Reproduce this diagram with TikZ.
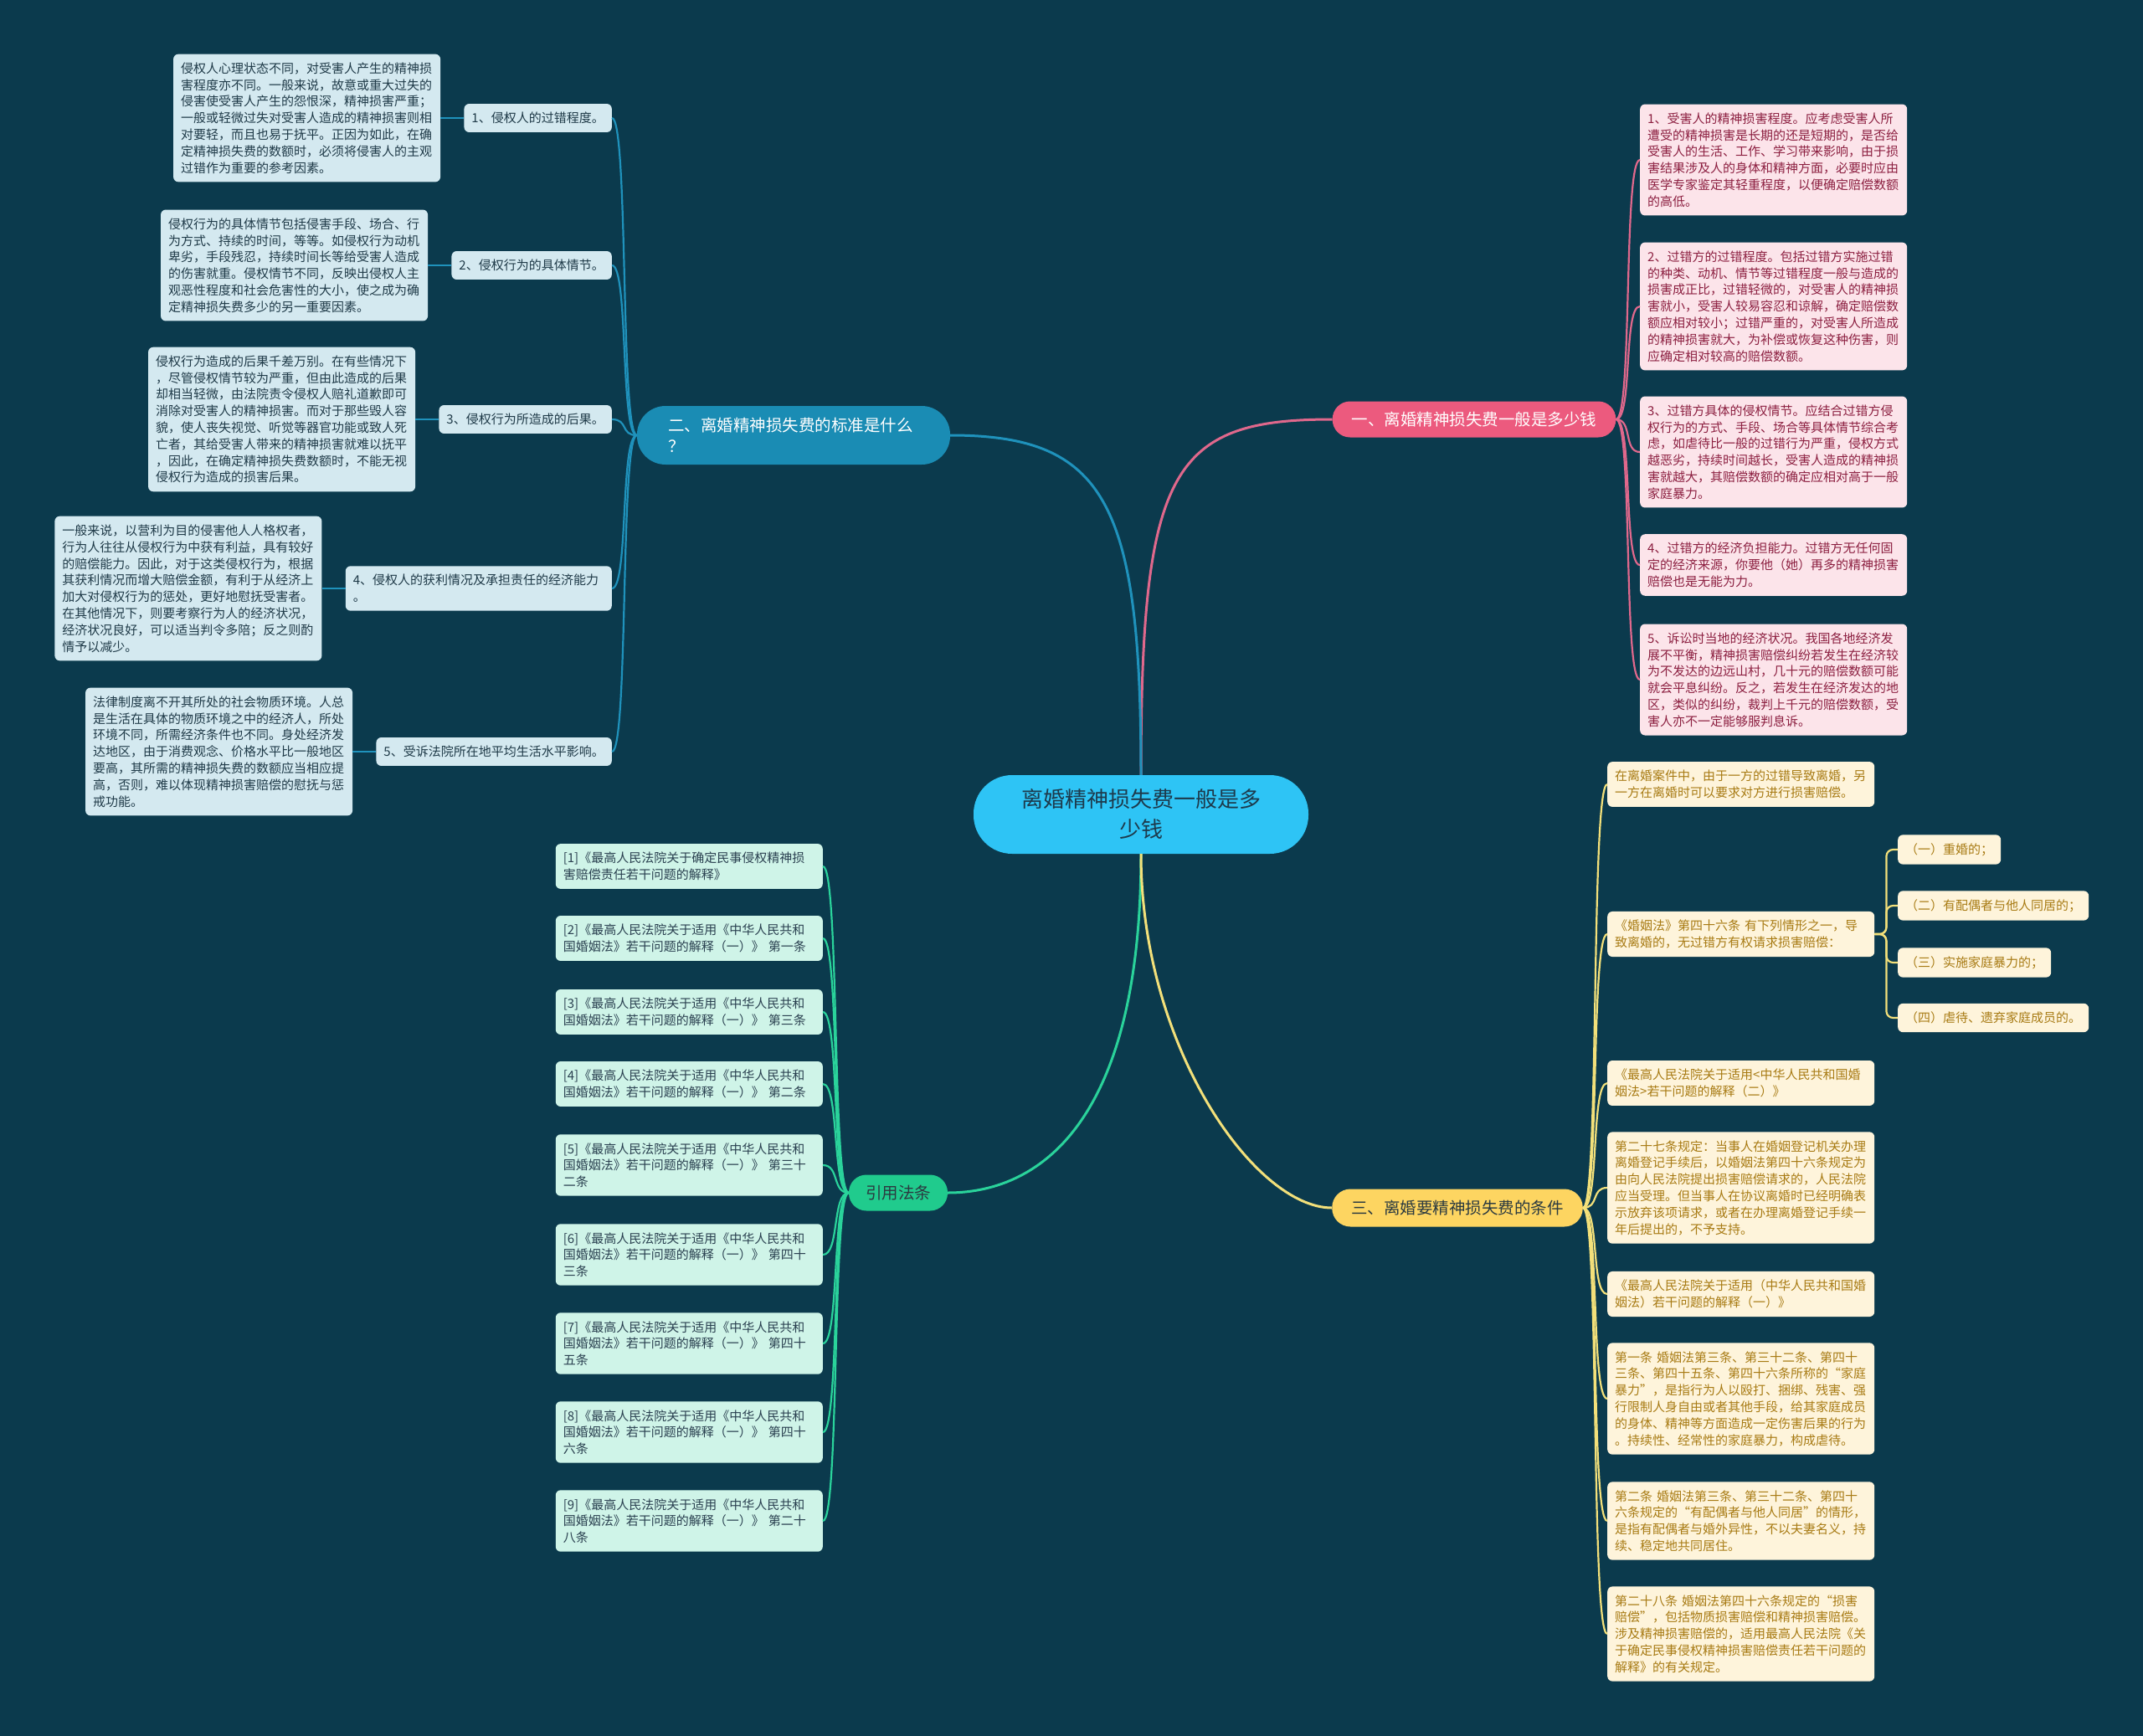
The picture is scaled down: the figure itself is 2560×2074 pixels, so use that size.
\documentclass[tikz,border=0pt]{standalone}
\usepackage{fontspec}
\setmainfont{Noto Sans CJK SC}
\usetikzlibrary{positioning}

\definecolor{bgcol}{HTML}{0B3A4D}
\definecolor{rootfill}{HTML}{2EC4F5}
\definecolor{roottext}{HTML}{1D3A4C}
\definecolor{darktext}{HTML}{2B3A40}
\definecolor{pinkmain}{HTML}{EC5A7E}
\definecolor{pinkline}{HTML}{E0688C}
\definecolor{pinkfill}{HTML}{FCE4EA}
\definecolor{pinktext}{HTML}{8C1F40}
\definecolor{bluemain}{HTML}{1A8CB4}
\definecolor{blueline}{HTML}{1F92BC}
\definecolor{bluefill}{HTML}{D4E9F0}
\definecolor{bluetext}{HTML}{1F3A48}
\definecolor{greenmain}{HTML}{20CB8D}
\definecolor{greenline}{HTML}{2AD39B}
\definecolor{greenfill}{HTML}{CFF4E8}
\definecolor{greentext}{HTML}{2A4050}
\definecolor{yellowmain}{HTML}{FDD561}
\definecolor{yellowline}{HTML}{F3E07A}
\definecolor{yellowfill}{HTML}{FEF4DB}
\definecolor{yellowtext}{HTML}{A87B14}

\begin{document}
\begin{tikzpicture}[
		x=1pt, y=-1pt,
		node distance=28pt,
		root/.style={rectangle, rounded corners=46pt, minimum height=94pt, text width=300pt, align=center, inner xsep=50pt, inner ysep=0pt, fill=rootfill, text=roottext, font=\fontsize{26pt}{36pt}\selectfont},
		branch/.style={rectangle, rounded corners=21pt, minimum height=43pt, inner xsep=23pt, inner ysep=0pt, align=left, font=\fontsize{19.5pt}{24.5pt}\selectfont},
		branch_pink/.style={branch, fill=pinkmain, text=white},
		branch_blue/.style={branch, fill=bluemain, text=white, rounded corners=34pt, minimum height=70pt, text width=300pt, inner xsep=37pt},
		branch_yellow/.style={branch, fill=yellowmain, text=darktext, minimum height=45pt, rounded corners=22pt},
		branch_green/.style={branch, fill=greenmain, text=darktext, inner xsep=20pt},
		card/.style={rectangle, rounded corners=6pt, inner xsep=9pt, inner ysep=10pt, align=left, font=\fontsize{15pt}{19.8pt}\selectfont},
		det_width/.style={text width=301pt},
		sub_blue/.style={card, fill=bluefill, text=bluetext},
		det_blue/.style={sub_blue, det_width},
		det_pink/.style={card, det_width, fill=pinkfill, text=pinktext},
		det_green/.style={card, det_width, fill=greenfill, text=greentext},
		det_yellow/.style={card, det_width, fill=yellowfill, text=yellowtext},
		sub_yellow/.style={card, fill=yellowfill, text=yellowtext},
		trunk/.style={line width=3pt},
		link/.style={line width=2.2pt}
	]

	% --- SFONDO ---
	\fill [bgcol] (0,0) rectangle (2560,2074);

	% --- 中心主题 ---
	\node (root) [root] at (1363,973) {离婚精神损失费一般是多\\少钱};

	% --- 一、多少钱 ---
	\node (b1) [branch_pink] at (1761,501) {一、离婚精神损失费一般是多少钱};
	\node (p1) [det_pink, anchor=west] at (1959,191) {1、受害人的精神损害程度。应考虑受害人所\\遭受的精神损害是长期的还是短期的，是否给\\受害人的生活、工作、学习带来影响，由于损\\害结果涉及人的身体和精神方面，必要时应由\\医学专家鉴定其轻重程度，以便确定赔偿数额\\的高低。};
	\node (p2) [det_pink, anchor=west] at (1959,366) {2、过错方的过错程度。包括过错方实施过错\\的种类、动机、情节等过错程度一般与造成的\\损害成正比，过错轻微的，对受害人的精神损\\害就小，受害人较易容忍和谅解，确定赔偿数\\额应相对较小；过错严重的，对受害人所造成\\的精神损害就大，为补偿或恢复这种伤害，则\\应确定相对较高的赔偿数额。};
	\node (p3) [det_pink, anchor=west] at (1959,540) {3、过错方具体的侵权情节。应结合过错方侵\\权行为的方式、手段、场合等具体情节综合考\\虑，如虐待比一般的过错行为严重，侵权方式\\越恶劣，持续时间越长，受害人造成的精神损\\害就越大，其赔偿数额的确定应相对高于一般\\家庭暴力。};
	\node (p4) [det_pink, anchor=west] at (1959,675) {4、过错方的经济负担能力。过错方无任何固\\定的经济来源，你要他（她）再多的精神损害\\赔偿也是无能为力。};
	\node (p5) [det_pink, anchor=west] at (1959,812) {5、诉讼时当地的经济状况。我国各地经济发\\展不平衡，精神损害赔偿纠纷若发生在经济较\\为不发达的边远山村，几十元的赔偿数额可能\\就会平息纠纷。反之，若发生在经济发达的地\\区，类似的纠纷，裁判上千元的赔偿数额，受\\害人亦不一定能够服判息诉。};

	% --- 二、标准 ---
	\node (b2) [branch_blue] at (948,520) {二、离婚精神损失费的标准是什么\\？};
	\node (l1) [sub_blue, anchor=east] at (731,141) {1、侵权人的过错程度。};
	\node (d1) [det_blue, left=of l1] {侵权人心理状态不同，对受害人产生的精神损\\害程度亦不同。一般来说，故意或重大过失的\\侵害使受害人产生的怨恨深，精神损害严重；\\一般或轻微过失对受害人造成的精神损害则相\\对要轻，而且也易于抚平。正因为如此，在确\\定精神损失费的数额时，必须将侵害人的主观\\过错作为重要的参考因素。};
	\node (l2) [sub_blue, anchor=east] at (731,317) {2、侵权行为的具体情节。};
	\node (d2) [det_blue, left=of l2] {侵权行为的具体情节包括侵害手段、场合、行\\为方式、持续的时间，等等。如侵权行为动机\\卑劣，手段残忍，持续时间长等给受害人造成\\的伤害就重。侵权情节不同，反映出侵权人主\\观恶性程度和社会危害性的大小，使之成为确\\定精神损失费多少的另一重要因素。};
	\node (l3) [sub_blue, anchor=east] at (731,501) {3、侵权行为所造成的后果。};
	\node (d3) [det_blue, left=of l3] {侵权行为造成的后果千差万别。在有些情况下\\，尽管侵权情节较为严重，但由此造成的后果\\却相当轻微，由法院责令侵权人赔礼道歉即可\\消除对受害人的精神损害。而对于那些毁人容\\貌，使人丧失视觉、听觉等器官功能或致人死\\亡者，其给受害人带来的精神损害就难以抚平\\，因此，在确定精神损失费数额时，不能无视\\侵权行为造成的损害后果。};
	\node (l4) [sub_blue, anchor=east, text width=300pt] at (731,703) {4、侵权人的获利情况及承担责任的经济能力\\。};
	\node (d4) [det_blue, left=of l4] {一般来说，以营利为目的侵害他人人格权者，\\行为人往往从侵权行为中获有利益，具有较好\\的赔偿能力。因此，对于这类侵权行为，根据\\其获利情况而增大赔偿金额，有利于从经济上\\加大对侵权行为的惩处，更好地慰抚受害者。\\在其他情况下，则要考察行为人的经济状况，\\经济状况良好，可以适当判令多陪；反之则酌\\情予以减少。};
	\node (l5) [sub_blue, anchor=east] at (731,898) {5、受诉法院所在地平均生活水平影响。};
	\node (d5) [det_blue, left=of l5] {法律制度离不开其所处的社会物质环境。人总\\是生活在具体的物质环境之中的经济人，所处\\环境不同，所需经济条件也不同。身处经济发\\达地区，由于消费观念、价格水平比一般地区\\要高，其所需的精神损失费的数额应当相应提\\高，否则，难以体现精神损害赔偿的慰抚与惩\\戒功能。};

	% --- 三、条件 ---
	\node (b3) [branch_yellow] at (1741,1443) {三、离婚要精神损失费的条件};
	\node (y1) [det_yellow, anchor=west] at (1920,937) {在离婚案件中，由于一方的过错导致离婚，另\\一方在离婚时可以要求对方进行损害赔偿。};
	\node (y2) [det_yellow, anchor=west] at (1920,1116) {《婚姻法》第四十六条 有下列情形之一，导\\致离婚的，无过错方有权请求损害赔偿：};
	\node (s1) [sub_yellow, anchor=west] at (2267,1015) {（一）重婚的；};
	\node (s2) [sub_yellow, anchor=west] at (2267,1082) {（二）有配偶者与他人同居的；};
	\node (s3) [sub_yellow, anchor=west] at (2267,1150) {（三）实施家庭暴力的；};
	\node (s4) [sub_yellow, anchor=west] at (2267,1216) {（四）虐待、遗弃家庭成员的。};
	\node (y3) [det_yellow, anchor=west] at (1920,1294) {《最高人民法院关于适用<中华人民共和国婚\\姻法>若干问题的解释（二）》};
	\node (y4) [det_yellow, anchor=west] at (1920,1419) {第二十七条规定：当事人在婚姻登记机关办理\\离婚登记手续后，以婚姻法第四十六条规定为\\由向人民法院提出损害赔偿请求的，人民法院\\应当受理。但当事人在协议离婚时已经明确表\\示放弃该项请求，或者在办理离婚登记手续一\\年后提出的，不予支持。};
	\node (y5) [det_yellow, anchor=west] at (1920,1546) {《最高人民法院关于适用（中华人民共和国婚\\姻法）若干问题的解释（一）》};
	\node (y6) [det_yellow, anchor=west] at (1920,1671) {第一条 婚姻法第三条、第三十二条、第四十\\三条、第四十五条、第四十六条所称的“家庭\\暴力”，是指行为人以殴打、捆绑、残害、强\\行限制人身自由或者其他手段，给其家庭成员\\的身体、精神等方面造成一定伤害后果的行为\\。持续性、经常性的家庭暴力，构成虐待。};
	\node (y7) [det_yellow, anchor=west] at (1920,1817) {第二条 婚姻法第三条、第三十二条、第四十\\六条规定的“有配偶者与他人同居”的情形，\\是指有配偶者与婚外异性，不以夫妻名义，持\\续、稳定地共同居住。};
	\node (y8) [det_yellow, anchor=west] at (1920,1952) {第二十八条 婚姻法第四十六条规定的“损害\\赔偿”，包括物质损害赔偿和精神损害赔偿。\\涉及精神损害赔偿的，适用最高人民法院《关\\于确定民事侵权精神损害赔偿责任若干问题的\\解释》的有关规定。};

	% --- 引用法条 ---
	\node (b4) [branch_green] at (1073,1425) {引用法条};
	\node (c1) [det_green, anchor=east] at (983,1035) {[1]《最高人民法院关于确定民事侵权精神损\\害赔偿责任若干问题的解释》};
	\node (c2) [det_green, anchor=east] at (983,1121) {[2]《最高人民法院关于适用《中华人民共和\\国婚姻法》若干问题的解释（一）》 第一条};
	\node (c3) [det_green, anchor=east] at (983,1209) {[3]《最高人民法院关于适用《中华人民共和\\国婚姻法》若干问题的解释（一）》 第三条};
	\node (c4) [det_green, anchor=east] at (983,1295) {[4]《最高人民法院关于适用《中华人民共和\\国婚姻法》若干问题的解释（一）》 第二条};
	\node (c5) [det_green, anchor=east] at (983,1392) {[5]《最高人民法院关于适用《中华人民共和\\国婚姻法》若干问题的解释（一）》 第三十\\二条};
	\node (c6) [det_green, anchor=east] at (983,1499) {[6]《最高人民法院关于适用《中华人民共和\\国婚姻法》若干问题的解释（一）》 第四十\\三条};
	\node (c7) [det_green, anchor=east] at (983,1605) {[7]《最高人民法院关于适用《中华人民共和\\国婚姻法》若干问题的解释（一）》 第四十\\五条};
	\node (c8) [det_green, anchor=east] at (983,1711) {[8]《最高人民法院关于适用《中华人民共和\\国婚姻法》若干问题的解释（一）》 第四十\\六条};
	\node (c9) [det_green, anchor=east] at (983,1817) {[9]《最高人民法院关于适用《中华人民共和\\国婚姻法》若干问题的解释（一）》 第二十\\八条};

	% --- COLLEGAMENTI ---
	% dal centro ai rami
	\draw [trunk, pinkline] (root.north) .. controls +(0,-366) and +(-192,0) .. (b1.west);
	\draw [trunk, blueline] (root.north) .. controls +(0,-326) and +(185,0) .. (b2.east);
	\draw [trunk, greenline] (root.south) .. controls +(0,310) and +(117,0) .. (b4.east);
	\draw [trunk, yellowline] (root.south) .. controls +(0,230) and +(-92,0) .. (b3.west);

	% 一、多少钱
	\draw [link, pinkline] (b1.east) .. controls +(20,0) and +(-20,0) .. (p1.west);
	\draw [link, pinkline] (b1.east) .. controls +(20,0) and +(-20,0) .. (p2.west);
	\draw [link, pinkline] (b1.east) .. controls +(20,0) and +(-20,0) .. (p3.west);
	\draw [link, pinkline] (b1.east) .. controls +(20,0) and +(-20,0) .. (p4.west);
	\draw [link, pinkline] (b1.east) .. controls +(20,0) and +(-20,0) .. (p5.west);

	% 二、标准
	\draw [link, blueline] (b2.west) .. controls +(-20,0) and +(20,0) .. (l1.east);
	\draw [link, blueline] (b2.west) .. controls +(-20,0) and +(20,0) .. (l2.east);
	\draw [link, blueline] (b2.west) .. controls +(-20,0) and +(20,0) .. (l3.east);
	\draw [link, blueline] (b2.west) .. controls +(-20,0) and +(20,0) .. (l4.east);
	\draw [link, blueline] (b2.west) .. controls +(-20,0) and +(20,0) .. (l5.east);
	\draw [link, blueline] (d1) -- (l1);
	\draw [link, blueline] (d2) -- (l2);
	\draw [link, blueline] (d3) -- (l3);
	\draw [link, blueline] (d4) -- (l4);
	\draw [link, blueline] (d5) -- (l5);

	% 三、条件
	\draw [link, yellowline] (b3.east) .. controls +(20,0) and +(-20,0) .. (y1.west);
	\draw [link, yellowline] (b3.east) .. controls +(20,0) and +(-20,0) .. (y2.west);
	\draw [link, yellowline] (b3.east) .. controls +(20,0) and +(-20,0) .. (y3.west);
	\draw [link, yellowline] (b3.east) .. controls +(20,0) and +(-20,0) .. (y4.west);
	\draw [link, yellowline] (b3.east) .. controls +(20,0) and +(-20,0) .. (y5.west);
	\draw [link, yellowline] (b3.east) .. controls +(20,0) and +(-20,0) .. (y6.west);
	\draw [link, yellowline] (b3.east) .. controls +(20,0) and +(-20,0) .. (y7.west);
	\draw [link, yellowline] (b3.east) .. controls +(20,0) and +(-20,0) .. (y8.west);
	\draw [link, yellowline, rounded corners=8pt] (y2.east) -- ++(14,0) |- (s1.west);
	\draw [link, yellowline, rounded corners=8pt] (y2.east) -- ++(14,0) |- (s2.west);
	\draw [link, yellowline, rounded corners=8pt] (y2.east) -- ++(14,0) |- (s3.west);
	\draw [link, yellowline, rounded corners=8pt] (y2.east) -- ++(14,0) |- (s4.west);

	% 引用法条
	\draw [link, greenline] (b4.west) .. controls +(-20,0) and +(20,0) .. (c1.east);
	\draw [link, greenline] (b4.west) .. controls +(-20,0) and +(20,0) .. (c2.east);
	\draw [link, greenline] (b4.west) .. controls +(-20,0) and +(20,0) .. (c3.east);
	\draw [link, greenline] (b4.west) .. controls +(-20,0) and +(20,0) .. (c4.east);
	\draw [link, greenline] (b4.west) .. controls +(-20,0) and +(20,0) .. (c5.east);
	\draw [link, greenline] (b4.west) .. controls +(-20,0) and +(20,0) .. (c6.east);
	\draw [link, greenline] (b4.west) .. controls +(-20,0) and +(20,0) .. (c7.east);
	\draw [link, greenline] (b4.west) .. controls +(-20,0) and +(20,0) .. (c8.east);
	\draw [link, greenline] (b4.west) .. controls +(-20,0) and +(20,0) .. (c9.east);
\end{tikzpicture}
\end{document}
